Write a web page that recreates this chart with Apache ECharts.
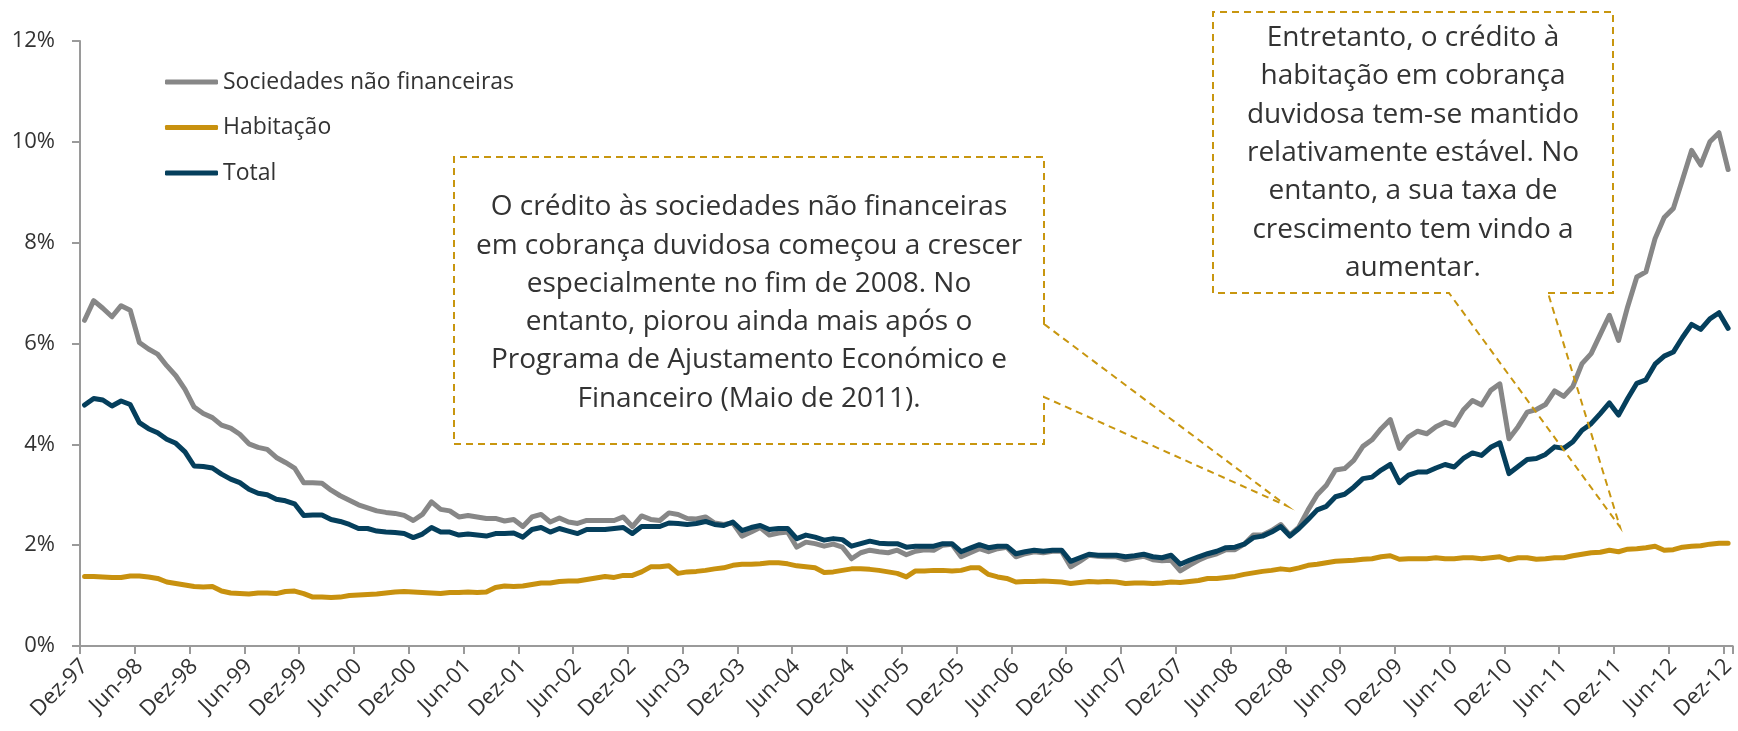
<!DOCTYPE html>
<html>
<head>
<meta charset="utf-8">
<script src="https://cdn.jsdelivr.net/npm/echarts@6/dist/echarts.min.js"></script>
<style>
html,body{margin:0;padding:0;background:#fff;}
#chart{width:1738px;height:731px;}
</style>
</head>
<body>
<div id="chart"></div>
<script>
// Months from Dez-97 to Dez-12 (181 monthly categories)
const monthNames = ['Jan','Fev','Mar','Abr','Mai','Jun','Jul','Ago','Set','Out','Nov','Dez'];
const categories = ['Dez-97'];
for (let y = 1998; y <= 2012; y++) {
  for (let m = 0; m < 12; m++) {
    categories.push(monthNames[m] + '-' + String(y % 100).padStart(2, '0'));
  }
}

const seriesNames = ['Sociedades não financeiras', 'Habitação', 'Total'];

const sociedades = [
  6.46, 6.85, 6.70, 6.53, 6.75, 6.66, 6.02, 5.89, 5.79, 5.56,
  5.36, 5.09, 4.74, 4.61, 4.53, 4.38, 4.32, 4.20, 4.01, 3.94,
  3.90, 3.74, 3.64, 3.53, 3.24, 3.24, 3.23, 3.09, 2.98, 2.89,
  2.80, 2.74, 2.68, 2.65, 2.63, 2.59, 2.49, 2.61, 2.86, 2.71,
  2.68, 2.56, 2.59, 2.56, 2.53, 2.53, 2.48, 2.51, 2.37, 2.56,
  2.61, 2.46, 2.54, 2.46, 2.43, 2.49, 2.49, 2.49, 2.49, 2.56,
  2.37, 2.58, 2.51, 2.49, 2.64, 2.61, 2.53, 2.52, 2.56, 2.44,
  2.41, 2.44, 2.18, 2.26, 2.35, 2.20, 2.24, 2.26, 1.96, 2.06,
  2.03, 1.98, 2.02, 1.96, 1.73, 1.85, 1.90, 1.87, 1.85, 1.90,
  1.81, 1.88, 1.91, 1.90, 2.00, 2.02, 1.77, 1.85, 1.93, 1.87,
  1.93, 1.96, 1.77, 1.83, 1.87, 1.85, 1.88, 1.88, 1.57, 1.68,
  1.80, 1.78, 1.77, 1.77, 1.71, 1.75, 1.78, 1.71, 1.69, 1.70,
  1.49, 1.60, 1.70, 1.78, 1.83, 1.91, 1.91, 2.02, 2.20, 2.20,
  2.29, 2.41, 2.20, 2.36, 2.70, 3.00, 3.19, 3.49, 3.52, 3.68,
  3.96, 4.09, 4.31, 4.49, 3.92, 4.15, 4.26, 4.21, 4.35, 4.44,
  4.38, 4.68, 4.87, 4.78, 5.07, 5.20, 4.11, 4.35, 4.64, 4.69,
  4.79, 5.06, 4.95, 5.15, 5.60, 5.80, 6.18, 6.56, 6.06, 6.73,
  7.32, 7.42, 8.08, 8.50, 8.68, 9.25, 9.83, 9.54, 10.00, 10.18,
  9.45
];

const habitacao = [
  1.38, 1.38, 1.37, 1.36, 1.36, 1.39, 1.39, 1.37, 1.34, 1.27,
  1.24, 1.21, 1.18, 1.17, 1.18, 1.09, 1.05, 1.04, 1.03, 1.05,
  1.05, 1.04, 1.08, 1.09, 1.04, 0.97, 0.97, 0.96, 0.97, 1.00,
  1.01, 1.02, 1.03, 1.05, 1.07, 1.08, 1.07, 1.06, 1.05, 1.04,
  1.06, 1.06, 1.07, 1.06, 1.07, 1.16, 1.19, 1.18, 1.19, 1.22,
  1.25, 1.25, 1.28, 1.29, 1.29, 1.32, 1.35, 1.38, 1.36, 1.40,
  1.40, 1.47, 1.57, 1.57, 1.59, 1.44, 1.47, 1.48, 1.50, 1.53,
  1.55, 1.60, 1.62, 1.62, 1.63, 1.65, 1.65, 1.63, 1.59, 1.57,
  1.55, 1.46, 1.47, 1.50, 1.53, 1.53, 1.52, 1.50, 1.47, 1.44,
  1.37, 1.49, 1.49, 1.50, 1.50, 1.49, 1.50, 1.55, 1.55, 1.42,
  1.37, 1.34, 1.27, 1.28, 1.28, 1.29, 1.28, 1.27, 1.24, 1.26,
  1.28, 1.27, 1.28, 1.27, 1.24, 1.25, 1.25, 1.24, 1.25, 1.27,
  1.26, 1.28, 1.30, 1.34, 1.34, 1.36, 1.38, 1.42, 1.45, 1.48,
  1.50, 1.53, 1.51, 1.55, 1.60, 1.62, 1.65, 1.68, 1.69, 1.70,
  1.72, 1.73, 1.77, 1.79, 1.72, 1.73, 1.73, 1.73, 1.75, 1.73,
  1.73, 1.75, 1.75, 1.73, 1.75, 1.77, 1.71, 1.75, 1.75, 1.72,
  1.73, 1.75, 1.75, 1.79, 1.82, 1.85, 1.86, 1.90, 1.87, 1.92,
  1.93, 1.95, 1.98, 1.90, 1.91, 1.96, 1.98, 1.99, 2.02, 2.04,
  2.04
];

const total = [
  4.78, 4.91, 4.88, 4.76, 4.86, 4.79, 4.43, 4.31, 4.23, 4.10,
  4.02, 3.85, 3.57, 3.56, 3.53, 3.41, 3.31, 3.24, 3.11, 3.03,
  3.00, 2.91, 2.88, 2.82, 2.59, 2.60, 2.60, 2.51, 2.47, 2.41,
  2.33, 2.33, 2.28, 2.26, 2.25, 2.23, 2.15, 2.22, 2.35, 2.26,
  2.26, 2.20, 2.22, 2.20, 2.18, 2.23, 2.23, 2.24, 2.16, 2.31,
  2.35, 2.26, 2.33, 2.28, 2.23, 2.31, 2.31, 2.31, 2.33, 2.35,
  2.23, 2.37, 2.37, 2.37, 2.44, 2.43, 2.41, 2.43, 2.47, 2.41,
  2.39, 2.46, 2.29, 2.35, 2.39, 2.31, 2.33, 2.33, 2.13, 2.20,
  2.16, 2.10, 2.13, 2.11, 1.98, 2.03, 2.08, 2.04, 2.03, 2.03,
  1.96, 1.98, 1.98, 1.98, 2.03, 2.03, 1.87, 1.94, 2.01, 1.95,
  1.98, 1.98, 1.83, 1.87, 1.90, 1.88, 1.90, 1.90, 1.68, 1.75,
  1.82, 1.80, 1.80, 1.80, 1.77, 1.79, 1.82, 1.77, 1.75, 1.80,
  1.62, 1.70, 1.77, 1.83, 1.88, 1.95, 1.96, 2.02, 2.15, 2.18,
  2.26, 2.37, 2.18, 2.33, 2.51, 2.70, 2.77, 2.96, 3.01, 3.15,
  3.32, 3.35, 3.49, 3.60, 3.24, 3.39, 3.45, 3.45, 3.53, 3.60,
  3.55, 3.72, 3.83, 3.78, 3.94, 4.03, 3.42, 3.56, 3.70, 3.72,
  3.80, 3.95, 3.92, 4.05, 4.28, 4.41, 4.61, 4.82, 4.58, 4.91,
  5.21, 5.28, 5.59, 5.75, 5.83, 6.12, 6.38, 6.28, 6.49, 6.61,
  6.30
];

const yTicks = [0, 2, 4, 6, 8, 10, 12];

const note1 = 'O crédito às sociedades não financeiras\nem cobrança duvidosa começou a crescer\nespecialmente no fim de 2008. No\nentanto, piorou ainda mais após o\nPrograma de Ajustamento Económico e\nFinanceiro (Maio de 2011).';
const note2 = 'Entretanto, o crédito à\nhabitação em cobrança\nduvidosa tem-se mantido\nrelativamente estável. No\nentanto, a sua taxa de\ncrescimento tem vindo a\naumentar.';

const colors = ['#878787', '#C8910F', '#053F5C'];
const gold = '#C8960F';
const FONT = 'Open Sans';

const chart = echarts.init(document.getElementById('chart'), null, {renderer: 'canvas'});

const option = {
  animation: false,
  color: colors,
  grid: {left: 80, right: 2, top: 41, bottom: 85, containLabel: false},
  legend: {
    orient: 'vertical',
    left: 160,
    top: 62,
    icon: 'roundRect',
    itemWidth: 53,
    itemHeight: 5,
    itemGap: 15.5,
    data: seriesNames,
    textStyle: {fontFamily: FONT, fontSize: 23, color: '#333333', lineHeight: 30}
  },
  xAxis: {
    type: 'category',
    data: categories,
    boundaryGap: true,
    axisLine: {lineStyle: {color: '#9a9a9a', width: 2}},
    axisTick: {show: true, interval: 5, length: 8, lineStyle: {color: '#9a9a9a', width: 2}},
    axisLabel: {
      interval: 5,
      rotate: 45,
      margin: 17,
      fontFamily: FONT,
      fontSize: 22,
      color: '#333333'
    },
    splitLine: {show: false}
  },
  yAxis: {
    type: 'value',
    min: yTicks[0],
    max: yTicks[yTicks.length - 1],
    interval: 2,
    axisLine: {show: true, lineStyle: {color: '#9a9a9a', width: 2}},
    axisTick: {show: true, length: 8, lineStyle: {color: '#9a9a9a', width: 2}},
    axisLabel: {
      formatter: '{value}%',
      fontFamily: FONT,
      fontSize: 22,
      color: '#333333',
      margin: 25
    },
    splitLine: {show: false}
  },
  series: [
    {name: seriesNames[0], type: 'line', data: sociedades, showSymbol: false, symbol: 'none',
     lineStyle: {width: 5, color: colors[0], join: 'round', cap: 'round'}, z: 2},
    {name: seriesNames[1], type: 'line', data: habitacao, showSymbol: false, symbol: 'none',
     lineStyle: {width: 5, color: colors[1], join: 'round', cap: 'round'}, z: 3},
    {name: seriesNames[2], type: 'line', data: total, showSymbol: false, symbol: 'none',
     lineStyle: {width: 5, color: colors[2], join: 'round', cap: 'round'}, z: 4}
  ],
  graphic: [
    {
      type: 'polygon',
      shape: {points: [[1044, 324], [1044, 157], [454, 157], [454, 444], [1044, 444], [1044, 397], [1287, 506]]},
      style: {fill: 'rgba(0,0,0,0)', stroke: gold, lineWidth: 2, lineDash: [7, 5]},
      z: 10
    },
    {
      type: 'text',
      x: 749, y: 303,
      style: {text: note1, fill: '#333333', fontFamily: FONT, fontSize: 28, lineHeight: 38.3,
              align: 'center', verticalAlign: 'middle'},
      z: 11
    },
    {
      type: 'polygon',
      shape: {points: [[1548, 293], [1613, 293], [1613, 12], [1213, 12], [1213, 293], [1449, 293], [1620, 527]]},
      style: {fill: 'rgba(0,0,0,0)', stroke: gold, lineWidth: 2, lineDash: [7, 5]},
      z: 10
    },
    {
      type: 'text',
      x: 1413, y: 153,
      style: {text: note2, fill: '#333333', fontFamily: FONT, fontSize: 28, lineHeight: 38.3,
              align: 'center', verticalAlign: 'middle'},
      z: 11
    }
  ]
};

chart.setOption(option);
</script>
</body>
</html>
